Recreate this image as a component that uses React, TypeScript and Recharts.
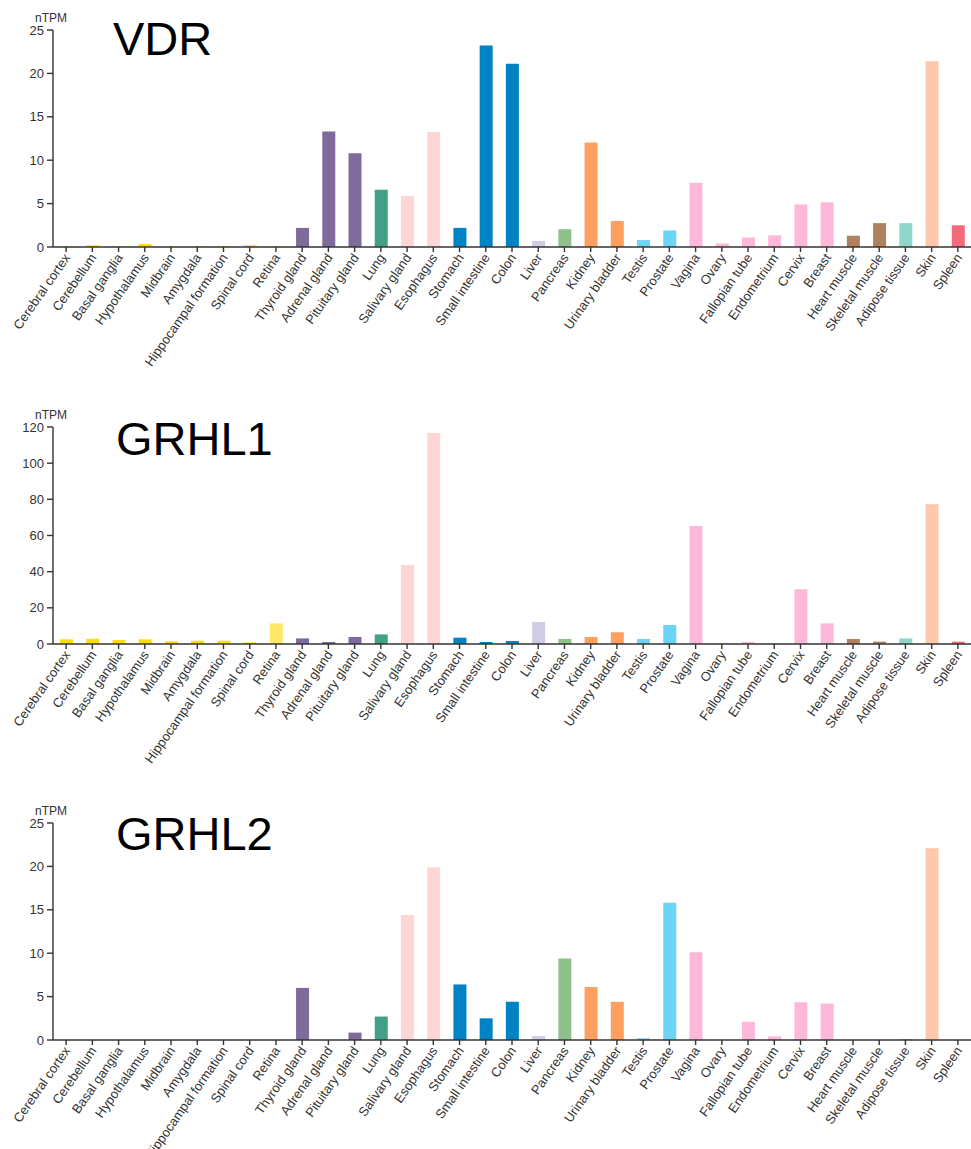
import React from "react";
import { BarChart, Bar, XAxis, YAxis, Cell } from "recharts";

const tissues = [
  "Cerebral cortex", "Cerebellum", "Basal ganglia", "Hypothalamus", "Midbrain", "Amygdala",
  "Hippocampal formation", "Spinal cord", "Retina", "Thyroid gland", "Adrenal gland",
  "Pituitary gland", "Lung", "Salivary gland", "Esophagus", "Stomach", "Small intestine",
  "Colon", "Liver", "Pancreas", "Kidney", "Urinary bladder", "Testis", "Prostate", "Vagina",
  "Ovary", "Fallopian tube", "Endometrium", "Cervix", "Breast", "Heart muscle",
  "Skeletal muscle", "Adipose tissue", "Skin", "Spleen",
];

const vdrValues = [
  0.1, 0.2, 0.1, 0.35, 0.1, 0.1, 0.1, 0.2, 0.1, 2.2, 13.3,
  10.8, 6.6, 5.9, 13.25, 2.2, 23.2,
  21.1, 0.7, 2.05, 12.05, 3.0, 0.8, 1.9, 7.4,
  0.4, 1.1, 1.35, 4.9, 5.15, 1.3,
  2.75, 2.75, 21.4, 2.5,
];

const grhl1Values = [
  2.6, 2.9, 2.2, 2.6, 1.5, 1.8, 1.8, 0.9, 11.4, 3.1, 1.1,
  3.9, 5.3, 43.7, 116.7, 3.5, 1.1,
  1.7, 12.2, 2.8, 3.9, 6.5, 2.8, 10.5, 65.2,
  0.5, 1.1, 0.3, 30.3, 11.4, 2.8,
  1.3, 3.1, 77.3, 1.3,
];

const grhl2Values = [
  0, 0, 0, 0, 0, 0, 0, 0, 0, 6.0, 0,
  0.85, 2.7, 14.4, 19.9, 6.4, 2.5,
  4.4, 0.45, 9.4, 6.1, 4.4, 0.2, 15.8, 10.1,
  0, 2.1, 0.42, 4.35, 4.2, 0,
  0, 0.1, 22.1, 0,
];

const smallTicks = [0, 5, 10, 15, 20, 25];
const largeTicks = [0, 20, 40, 60, 80, 100, 120];

const tissueColors = [
  "#FFDD00", "#FFDD00", "#FFDD00", "#FFDD00", "#FFDD00", "#FFDD00", "#FFDD00", "#FFDD00",
  "#FFE866", "#7F6A9C", "#7F6A9C", "#7F6A9C", "#41A085", "#FFD6D6", "#FFD6D6",
  "#0083C4", "#0083C4", "#0083C4", "#D1CBE5", "#8FC18C", "#FF9F5F", "#FF9F5F",
  "#6DD3F7", "#6DD3F7", "#FFB8D9", "#FFB8D9", "#FFB8D9", "#FFB8D9", "#FFB8D9", "#FFB8D9",
  "#B08060", "#B08060", "#8ED6CA", "#FFC7AB", "#F36A7D",
];

const FONT = "'Liberation Sans', Arial, sans-serif";
const AXIS = "#333333";

const RotTick = (props: any) => {
  const { x, y, payload } = props;
  return (
    <g transform={`translate(${x + 1},${y + 1})`}>
      <text
        x={0}
        y={0}
        dy="0.35em"
        textAnchor="end"
        transform="rotate(-55)"
        fontSize={13}
        fontFamily={FONT}
        fill="#333"
      >
        {payload.value}
      </text>
    </g>
  );
};

function Panel({ values, ticks, max, top }: { values: number[]; ticks: number[]; max: number; top: number }) {
  const data = tissues.map((t, i) => ({ tissue: t, value: values[i] }));
  return (
    <div style={{ position: "absolute", left: 0, top, width: 971, height: 396 }}>
      <BarChart width={971} height={396} data={data} margin={{ top: 30, right: 0, bottom: 0, left: 0 }}>
        <XAxis
          dataKey="tissue"
          interval={0}
          height={149}
          tick={<RotTick />}
          tickSize={5}
          axisLine={{ stroke: AXIS, strokeWidth: 1.6 }}
          tickLine={{ stroke: AXIS, strokeWidth: 1.4 }}
        />
        <YAxis
          width={53}
          domain={[0, max]}
          ticks={ticks}
          interval={0}
          tickSize={6}
          tickMargin={3}
          axisLine={{ stroke: AXIS, strokeWidth: 1.4 }}
          tickLine={{ stroke: AXIS, strokeWidth: 1.4 }}
          tick={{ fontSize: 13, fontFamily: FONT, fill: "#333" }}
        />
        <Bar dataKey="value" barSize={13} isAnimationActive={false}>
          {data.map((d, i) => (
            <Cell key={d.tissue} fill={tissueColors[i]} />
          ))}
        </Bar>
      </BarChart>
    </div>
  );
}

export default function App() {
  return (
    <div style={{ position: "absolute", left: 0, top: 0, width: 971, height: 1149, background: "#fff" }}>
      <Panel values={vdrValues} ticks={smallTicks} max={25} top={0} />
      <Panel values={grhl1Values} ticks={largeTicks} max={120} top={397} />
      <Panel values={grhl2Values} ticks={smallTicks} max={25} top={793} />
      <svg
        width={971}
        height={1149}
        style={{ position: "absolute", left: 0, top: 0, pointerEvents: "none" }}
      >
        <g fontFamily={FONT}>
          <text x={35} y={22} fontSize={12} fill="#333">nTPM</text>
          <text x={35} y={419} fontSize={12} fill="#333">nTPM</text>
          <text x={35} y={815} fontSize={12} fill="#333">nTPM</text>
          <text x={113} y={55} fontSize={47} fill="#000">VDR</text>
          <text x={116} y={455} fontSize={47} fill="#000">GRHL1</text>
          <text x={116} y={850} fontSize={47} fill="#000">GRHL2</text>
        </g>
      </svg>
    </div>
  );
}
